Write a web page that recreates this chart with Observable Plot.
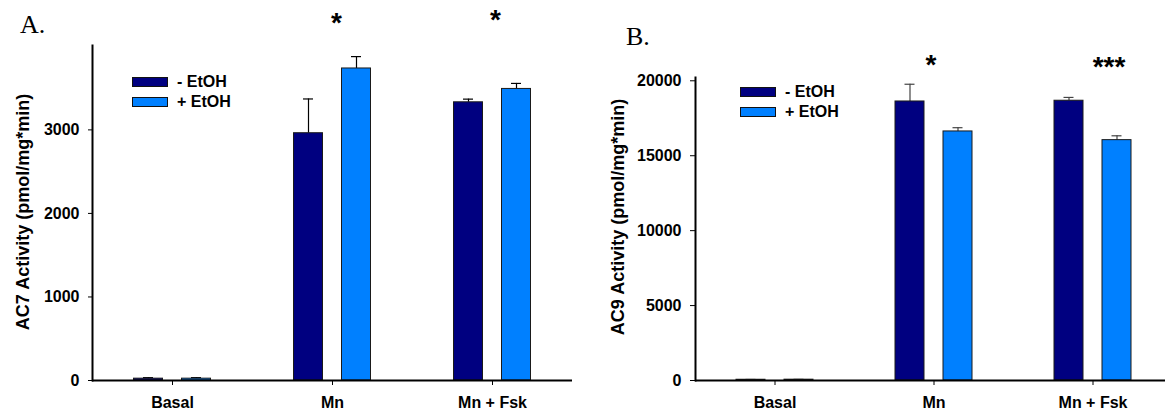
<!DOCTYPE html>
<html>
<head>
<meta charset="utf-8">
<script src="https://cdn.jsdelivr.net/npm/d3@7"></script>
<script src="https://cdn.jsdelivr.net/npm/@observablehq/plot@0.6"></script>
<style>
  html, body { margin: 0; padding: 0; background: #fff; overflow: hidden; }
  #wrap { position: relative; width: 1165px; height: 412px; font-family: "Liberation Sans", Arial, sans-serif; }
  .panel { position: absolute; top: 0; }
  .tag { position: absolute; font-family: "Liberation Serif", "Times New Roman", serif; font-size: 26px; line-height: 1; color: #000; }
  .legend { position: absolute; font-weight: bold; font-size: 16px; color: #000; }
  .legend .row { display: flex; align-items: center; height: 20px; white-space: nowrap; }
  .legend .sw { width: 34px; height: 8px; border: 1px solid #111; margin-right: 9px; box-sizing: content-box; }
</style>
</head>
<body>
<div id="wrap"></div>
<script>
// Conditions on the x axis and the two treatment series
const categories = ["Basal", "Mn", "Mn + Fsk"];
const series = ["- EtOH", "+ EtOH"];
const seriesColors = ["#000080", "#0080ff"];

// Panel A: AC7 activity (pmol/mg*min), mean and upper SEM
const ac7Minus = [22, 2960, 3330];
const ac7MinusErr = [12, 410, 38];
const ac7Plus = [22, 3735, 3490];
const ac7PlusErr = [12, 142, 66];
const ac7Stars = ["", "*", "*"];
const ac7Ticks = [0, 1000, 2000, 3000];

// Panel B: AC9 activity (pmol/mg*min), mean and upper SEM
const ac9Minus = [50, 18620, 18670];
const ac9MinusErr = [20, 1150, 220];
const ac9Plus = [55, 16620, 16040];
const ac9PlusErr = [20, 250, 290];
const ac9Stars = ["", "*", "***"];
const ac9Ticks = [0, 5000, 10000, 15000, 20000];

const wrap = document.getElementById("wrap");

function rowsFor(values, errors) {
  return categories.map((c, i) => ({category: c, value: values[i], err: errors[i]}));
}

function panel(cfg) {
  const band = (cfg.xRange[1] - cfg.xRange[0]) / categories.length;
  const barInset = (band - 29) / 2;
  const capInset = (band - 10) / 2;
  const offsets = [-24, 24];
  const data = [rowsFor(cfg.minus, cfg.minusErr), rowsFor(cfg.plus, cfg.plusErr)];
  const marks = [];
  data.forEach((rows, s) => {
    marks.push(
      Plot.ruleX(rows, {x: "category", y1: "value", y2: d => d.value + d.err, dx: offsets[s], stroke: cfg.errColor, strokeWidth: 1.2}),
      Plot.tickY(rows, {x: "category", y: d => d.value + d.err, dx: offsets[s], insetLeft: capInset, insetRight: capInset, stroke: cfg.errColor, strokeWidth: 1.2}),
      Plot.barY(rows, {x: "category", y: "value", fill: seriesColors[s], stroke: "#1a1a1a", strokeWidth: 1, insetLeft: barInset, insetRight: barInset, dx: offsets[s]})
    );
  });
  // significance markers above each condition
  categories.forEach((c, i) => {
    if (!cfg.stars[i]) return;
    marks.push(Plot.text([{category: c, star: cfg.stars[i]}], {
      x: "category", text: "star", frameAnchor: "top",
      dx: cfg.starDx[i], dy: cfg.starDy[i], lineAnchor: "middle",
      fontSize: 28, fontWeight: "bold", fill: "#000"
    }));
  });
  marks.push(
    Plot.axisY({ticks: cfg.ticks, tickFormat: d3.format("d"), tickSize: cfg.yTickSize, tickPadding: 9, fontSize: 16, fontWeight: "bold", label: null, stroke: "#000", fill: "#000"}),
    Plot.axisX({tickSize: 5, tickPadding: 11, fontSize: 16, fontWeight: "bold", label: null, stroke: "#000", fill: "#000"}),
    Plot.ruleY([0], {stroke: "#000", strokeWidth: 2}),
    Plot.frame({anchor: "left", stroke: "#000", strokeWidth: 2}),
    Plot.text([cfg.yLabel], {frameAnchor: "left", rotate: -90, dx: cfg.labelDx, dy: cfg.labelDy, textAnchor: "middle", lineAnchor: "bottom", fontSize: 18, fontWeight: "bold", fill: "#000"})
  );
  const chart = Plot.plot({
    width: cfg.width,
    height: 412,
    marginLeft: cfg.marginLeft,
    marginRight: cfg.marginRight,
    marginTop: cfg.marginTop,
    marginBottom: 32,
    x: {type: "band", domain: categories, range: cfg.xRange, padding: 0},
    y: {domain: cfg.yDomain},
    style: {fontFamily: "'Liberation Sans', Arial, sans-serif", background: "transparent", color: "#000"},
    marks
  });
  chart.classList.add("panel");
  chart.style.left = cfg.left + "px";
  wrap.appendChild(chart);

  const tag = document.createElement("div");
  tag.className = "tag";
  tag.textContent = cfg.tag;
  tag.style.left = cfg.tagPos[0] + "px";
  tag.style.top = cfg.tagPos[1] + "px";
  wrap.appendChild(tag);

  const legend = document.createElement("div");
  legend.className = "legend";
  legend.style.left = cfg.legendPos[0] + "px";
  legend.style.top = cfg.legendPos[1] + "px";
  series.forEach((name, s) => {
    const row = document.createElement("div");
    row.className = "row";
    const sw = document.createElement("span");
    sw.className = "sw";
    sw.style.background = seriesColors[s];
    row.appendChild(sw);
    row.appendChild(document.createTextNode(name));
    legend.appendChild(row);
  });
  wrap.appendChild(legend);
}

panel({
  tag: "A.", tagPos: [20, 12], legendPos: [132, 72],
  minus: ac7Minus, minusErr: ac7MinusErr, plus: ac7Plus, plusErr: ac7PlusErr,
  stars: ac7Stars, starDx: [0, 4, 3], starDy: [0, -22, -25],
  ticks: ac7Ticks, yDomain: [0, 4010], yLabel: "AC7 Activity (pmol/mg*min)",
  left: 0, width: 580, marginLeft: 92, marginRight: 8, marginTop: 45,
  xRange: [92, 572], yTickSize: 4, errColor: "#000",
  labelDx: -64, labelDy: -1
});

panel({
  tag: "B.", tagPos: [626, 24], legendPos: [740, 82],
  minus: ac9Minus, minusErr: ac9MinusErr, plus: ac9Plus, plusErr: ac9PlusErr,
  stars: ac9Stars, starDx: [0, -3, 16], starDy: [0, -12, -10],
  ticks: ac9Ticks, yDomain: [0, 20220], yLabel: "AC9 Activity (pmol/mg*min)",
  left: 600, width: 565, marginLeft: 95, marginRight: 0, marginTop: 77,
  xRange: [95, 572], yTickSize: 5, errColor: "#444",
  labelDx: -72, labelDy: -12
});
</script>
</body>
</html>
